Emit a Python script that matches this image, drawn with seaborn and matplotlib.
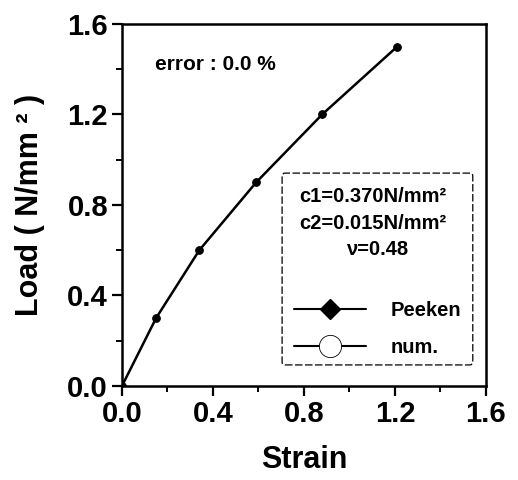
import matplotlib
matplotlib.use("Agg")
import matplotlib.pyplot as plt
from matplotlib.lines import Line2D
from matplotlib.patches import FancyBboxPatch
import seaborn as sns
import pandas as pd

# Stress-strain data
strain = [0.0, 0.15, 0.34, 0.59, 0.88, 1.21]
load = [0.0, 0.30, 0.60, 0.90, 1.20, 1.50]
ticks = [0.0, 0.4, 0.8, 1.2, 1.6]
tick_labels = ["0.0", "0.4", "0.8", "1.2", "1.6"]
params = ["c1=0.370N/mm²", "c2=0.015N/mm²", "ν=0.48"]
series_names = ["Peeken", "num."]

sns.set_theme(style="ticks")
plt.rcParams["font.family"] = ["Liberation Sans", "DejaVu Sans"]
plt.rcParams["font.weight"] = "bold"
plt.rcParams["text.color"] = "black"
plt.rcParams["axes.labelcolor"] = "black"

df = pd.DataFrame({"Strain": strain, "Load": load})

fig = plt.figure(figsize=(5.18, 4.8), dpi=100)
ax = fig.add_axes([0.2355, 0.196, 0.7025, 0.754])

sns.lineplot(data=df, x="Strain", y="Load", ax=ax, color="black", lw=1.8,
             marker="o", markersize=5.5, markeredgecolor="black", legend=False)

ax.set_xlim(0, 1.6)
ax.set_ylim(0, 1.6)
ax.set_xticks(ticks)
ax.set_xticklabels(tick_labels)
ax.set_yticks(ticks)
ax.set_yticklabels(tick_labels)
ax.set_xticks([0.2, 0.6, 1.0, 1.4], minor=True)
ax.set_yticks([0.2, 0.6, 1.0, 1.4], minor=True)
ax.tick_params(which="major", direction="out", length=7, width=1.6,
               labelsize=21, pad=3, colors="black")
ax.tick_params(which="minor", direction="out", length=4, width=1.4, colors="black")
for lab in ax.get_xticklabels() + ax.get_yticklabels():
    lab.set_fontweight("bold")
for sp in ax.spines.values():
    sp.set_visible(True)
    sp.set_linewidth(1.8)
    sp.set_color("black")

ax.set_xlabel("Strain", fontsize=22, fontweight="bold", color="black")
ax.set_ylabel("Load ( N/mm ² )", fontsize=22, fontweight="bold", color="black")
ax.xaxis.set_label_coords(0.5, -0.205)
ax.yaxis.set_label_coords(-0.253, 0.5)
ax.xaxis.label.set_va("center")
ax.yaxis.label.set_va("center")

ax.text(0.091, 0.887, "error : 0.0 %", transform=ax.transAxes,
        fontsize=15, fontweight="bold", ha="left", va="center", color="black")

# Parameter box with dashed border
box = FancyBboxPatch((0.44, 0.058), 0.524, 0.53, transform=ax.transAxes,
                     boxstyle="round,pad=0,rounding_size=0.008",
                     fill=False, edgecolor="black", lw=0.9, ls=(0, (6, 2)))
ax.add_patch(box)
ax.text(0.69, 0.522, params[0], transform=ax.transAxes, fontsize=14.5,
        fontweight="bold", ha="center", va="center", color="black")
ax.text(0.69, 0.45, params[1], transform=ax.transAxes, fontsize=14.5,
        fontweight="bold", ha="center", va="center", color="black")
ax.text(0.70, 0.376, params[2], transform=ax.transAxes, fontsize=14.5,
        fontweight="bold", ha="center", va="center", color="black")

handles = [
    Line2D([], [], color="black", lw=1.5, marker="D", markersize=10,
           markerfacecolor="black", markeredgecolor="black"),
    Line2D([], [], color="black", lw=1.5, marker="o", markersize=16,
           markerfacecolor="white", markeredgecolor="black",
           markeredgewidth=0.6),
]
leg = ax.legend(handles, series_names, loc="center left", bbox_to_anchor=(0.472, 0.158),
                bbox_transform=ax.transAxes, frameon=False, fontsize=14.5,
                handlelength=3.6, handletextpad=1.2, labelspacing=0.9,
                borderpad=0, borderaxespad=0)
for t in leg.get_texts():
    t.set_fontweight("bold")
    t.set_color("black")

fig.savefig("out.png", dpi=100)
